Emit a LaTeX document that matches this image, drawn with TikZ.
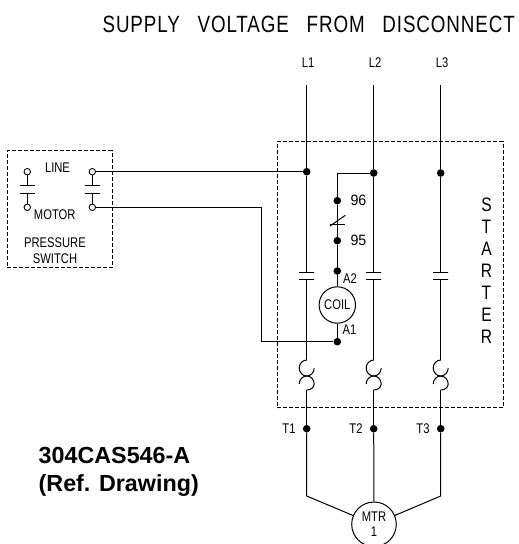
\documentclass[tikz,border=0pt]{standalone}
\usepackage{fontspec}
\setmainfont{Liberation Sans}
\newfontfamily\cadfont[FakeStretch=0.8]{Liberation Sans}
\newfontfamily\numfont[FakeStretch=0.95]{Liberation Sans}
\newfontfamily\titlefont[FakeStretch=0.8,LetterSpace=3.8,WordSpace=2.9]{Liberation Sans}
\usetikzlibrary{positioning}

\begin{document}
\begin{tikzpicture}[
x=1pt,y=-1pt,
wire/.style={
line width=1pt
},
panel/.style={
draw,
line width=0.9pt,
dash pattern=on 4pt off 2pt,
rectangle,
inner sep=0pt
},
wiredot/.style={
circle,
fill=black,
inner sep=0pt,
minimum size=7.6pt
},
terminal/.style={
circle,
draw,
fill=white,
line width=0.9pt,
inner sep=0pt,
minimum size=6.5pt
},
bar/.style={
draw,
rectangle,
line width=1pt,
inner sep=0pt,
minimum width=15pt,
minimum height=0pt
},
device/.style={
circle,
draw,
line width=1pt,
align=center,
inner sep=0pt,
font=\cadfont\fontsize{14}{15.5}\selectfont
},
cadlabel/.style={
inner sep=0pt,
align=center,
font=\cadfont\fontsize{14}{16}\selectfont
},
numlabel/.style={
inner sep=0pt,
font=\numfont\fontsize{15}{16}\selectfont
},
overload/.pic={
\draw[wire] (0,-16) .. controls (-4,-16) and (-7.5,-12.5) .. (-7.5,-8)
 .. controls (-7.5,-3.5) and (-4,0) .. (0,0)
 .. controls (4,0) and (7.5,3.5) .. (7.5,8)
 .. controls (7.5,11.5) and (4,14) .. (0,14);
\draw[wire] (7.5,-8) .. controls (7.5,-3.5) and (4,0) .. (0,0)
 .. controls (-4,0) and (-7.5,3.5) .. (-7.5,8);
\coordinate (-top) at (0,-16);
\coordinate (-bottom) at (0,14);
}
]
\path[use as bounding box, clip] (0,0) rectangle (519,544);

% Feliratok
\node[inner sep=0pt, anchor=east, font=\titlefont\fontsize{23.5}{25}\selectfont] (supply) at (515,24.5) {SUPPLY VOLTAGE FROM DISCONNECT};
\node[inner sep=0pt, align=left, anchor=north west, font=\bfseries\fontsize{23.3}{28}\selectfont] (refdrawing) at (38.5,447) {304CAS546-A\\(Ref. Drawing)};

% Dobozok
\node[panel, minimum width=226pt, minimum height=266pt] (starter) at (390,274.7) {};
\node[panel, minimum width=105pt, minimum height=117pt] (switch) at (59.7,209.3) {};

% Fazisok
\node[cadlabel] (l1) at (308,62.5) {L1};
\node[cadlabel] (l2) at (375,62.5) {L2};
\node[cadlabel] (l3) at (442,62.5) {L3};
\coordinate (l1top) at (306.7,85);
\coordinate (l2top) at (373.7,85);
\coordinate (l3top) at (440.7,85);
\node[wiredot] (l1dot) at (306.7,171.7) {};
\node[wiredot] (l2dot) at (373.7,173) {};
\node[wiredot] (l3dot) at (440.7,173) {};
\node[bar] (l1up) at (306.7,272.7) {};
\node[bar] (l2up) at (373.7,272.7) {};
\node[bar] (l3up) at (440.7,272.7) {};
\node[bar] (l1low) at (306.7,279.5) {};
\node[bar] (l2low) at (373.7,279.5) {};
\node[bar] (l3low) at (440.7,279.5) {};
\pic (ol1) at (306.7,376) {overload};
\pic (ol2) at (373.7,376) {overload};
\pic (ol3) at (440.7,376) {overload};
\node[wiredot] (t1dot) at (306.7,428.7) {};
\node[wiredot] (t2dot) at (373.7,428.7) {};
\node[wiredot] (t3dot) at (440.7,428.7) {};
\node[cadlabel, left=7pt of t1dot] (t1) {T1};
\node[cadlabel, left=7pt of t2dot] (t2) {T2};
\node[cadlabel, left=7pt of t3dot] (t3) {T3};
\node[device, minimum size=44.6pt] (motor) at (374,524.3) {MTR\\1};
\coordinate (t1bend) at (306.7,496);
\coordinate (t3bend) at (440.7,496);

% Tekercs ag
\node[wiredot] (dot96) at (337.3,200.7) {};
\node[wiredot] (dot95) at (337.3,240.7) {};
\node[wiredot] (dota2) at (337.3,271) {};
\node[wiredot] (dota1) at (337.3,341.7) {};
\node[device, minimum size=36.4pt] (coil) at (337.3,305) {COIL};
\coordinate (l2branch) at (337.3,173);
\node[bar] (ncbar) at (337.3,224.3) {};
\coordinate (ncleft) at (330,226);
\coordinate (ncright) at (345.3,215.3);
\node[numlabel, right=9pt of dot96] (n96) {96};
\node[numlabel, right=9pt of dot95] (n95) {95};
\node[cadlabel] (na2) at (350,279) {A2};
\node[cadlabel] (na1) at (349.5,330) {A1};
\node[cadlabel, font=\cadfont\fontsize{19.5}{22}\selectfont] (startertext) at (486.5,271) {S\\T\\A\\R\\T\\E\\R};

% Nyomaskapcsolo
\node[terminal] (swlt) at (27.3,171.7) {};
\node[terminal] (swlb) at (27.3,207.3) {};
\node[terminal] (swrt) at (92.3,171.7) {};
\node[terminal] (swrb) at (92.3,207.3) {};
\node[bar] (swlup) at (27.3,185.7) {};
\node[bar] (swllow) at (27.3,193.3) {};
\node[bar] (swrup) at (92.3,185.7) {};
\node[bar] (swrlow) at (92.3,193.3) {};
\node[cadlabel] (line) at (57.5,168) {LINE};
\node[cadlabel] (motortext) at (54.7,214.5) {MOTOR};
\node[cadlabel] (pressure) at (55,250.5) {PRESSURE\\SWITCH};
\coordinate (motorturn) at (261,207.3);
\coordinate (motorfoot) at (261,341.7);

% Vezetekek
\draw[wire] (l1top) -- (l1dot);
\draw[wire] (l2top) -- (l2dot);
\draw[wire] (l3top) -- (l3dot);
\draw[wire] (l1dot) -- (l1up);
\draw[wire] (l2dot) -- (l2up);
\draw[wire] (l3dot) -- (l3up);
\draw[wire] (l1low) -- (ol1-top);
\draw[wire] (l2low) -- (ol2-top);
\draw[wire] (l3low) -- (ol3-top);
\draw[wire] (ol1-bottom) -- (t1dot);
\draw[wire] (ol2-bottom) -- (t2dot);
\draw[wire] (ol3-bottom) -- (t3dot);
\draw[wire] (t1dot) -- (t1bend) -- (motor);
\draw[wire] (t2dot) -- (motor);
\draw[wire] (t3dot) -- (t3bend) -- (motor);
\draw[wire] (l2dot) -- (l2branch) -- (dot96);
\draw[wire] (dot96) -- (dot95);
\draw[wire] (ncleft) -- (ncright);
\draw[wire] (dot95) -- (dota2);
\draw[wire] (dota2) -- (coil);
\draw[wire] (coil) -- (dota1);
\draw[wire] (swrt) -- (l1dot);
\draw[wire] (swrb) -- (motorturn) -- (motorfoot) -- (dota1);
\draw[wire] (swlt) -- (swlup);
\draw[wire] (swllow) -- (swlb);
\draw[wire] (swrt) -- (swrup);
\draw[wire] (swrlow) -- (swrb);
\end{tikzpicture}
\end{document}
